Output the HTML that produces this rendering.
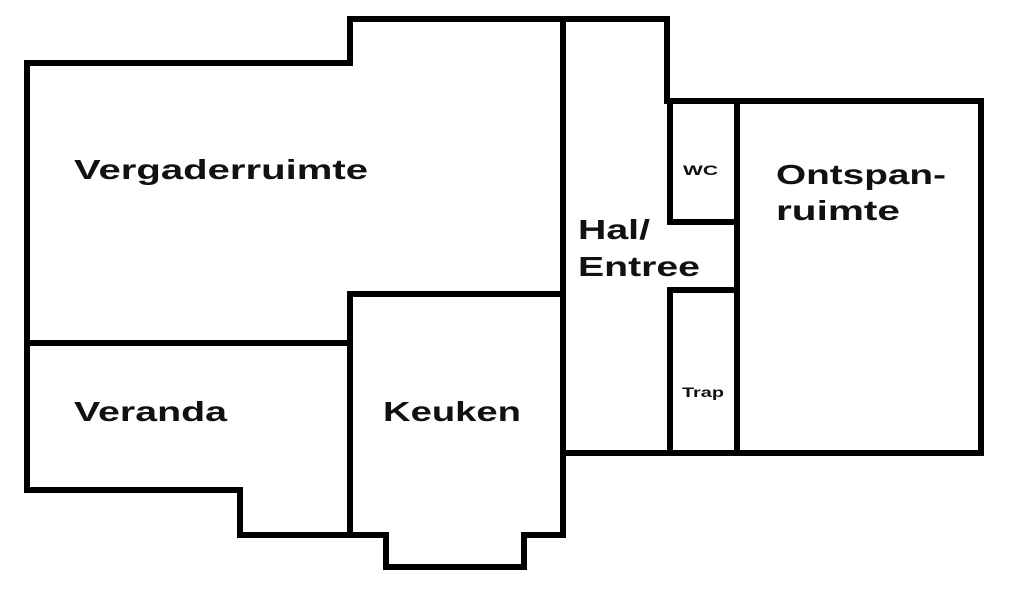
<!DOCTYPE html>
<html><head><meta charset="utf-8"><style>
html,body{margin:0;padding:0;background:#fff;}
svg{display:block}
text{font-family:"Liberation Sans",sans-serif;font-weight:bold;fill:#111;}
</style></head><body>
<svg width="1013" height="610" viewBox="0 0 1013 610" xmlns="http://www.w3.org/2000/svg">
<g fill="none" stroke="#000" stroke-width="6" stroke-linejoin="miter" stroke-linecap="square">
<path d="M27 63 H350 V19 H667 V101 H981 V453 H563 V535 H524 V567 H386 V535 H240 V490 H27 Z"/>
<path d="M563 19 V453"/>
<path d="M350 294 H563"/>
<path d="M350 294 V535"/>
<path d="M27 343 H350"/>
<path d="M670 101 V222 H737"/>
<path d="M737 101 V453"/>
<path d="M670 453 V290 H737"/>
</g>
<text x="74" y="179" font-size="28" textLength="294" lengthAdjust="spacingAndGlyphs">Vergaderruimte</text>
<text x="74" y="421" font-size="28" textLength="153" lengthAdjust="spacingAndGlyphs">Veranda</text>
<text x="383" y="421" font-size="28" textLength="138" lengthAdjust="spacingAndGlyphs">Keuken</text>
<text x="578" y="239" font-size="28" textLength="72" lengthAdjust="spacingAndGlyphs">Hal/</text>
<text x="578" y="276" font-size="28" textLength="122" lengthAdjust="spacingAndGlyphs">Entree</text>
<text x="776" y="184" font-size="28" textLength="170" lengthAdjust="spacingAndGlyphs">Ontspan-</text>
<text x="776" y="220" font-size="28" textLength="124" lengthAdjust="spacingAndGlyphs">ruimte</text>
<text x="683" y="175" font-size="14" textLength="35" lengthAdjust="spacingAndGlyphs">WC</text>
<text x="682" y="397" font-size="14" textLength="42" lengthAdjust="spacingAndGlyphs">Trap</text>
</svg>
</body></html>
